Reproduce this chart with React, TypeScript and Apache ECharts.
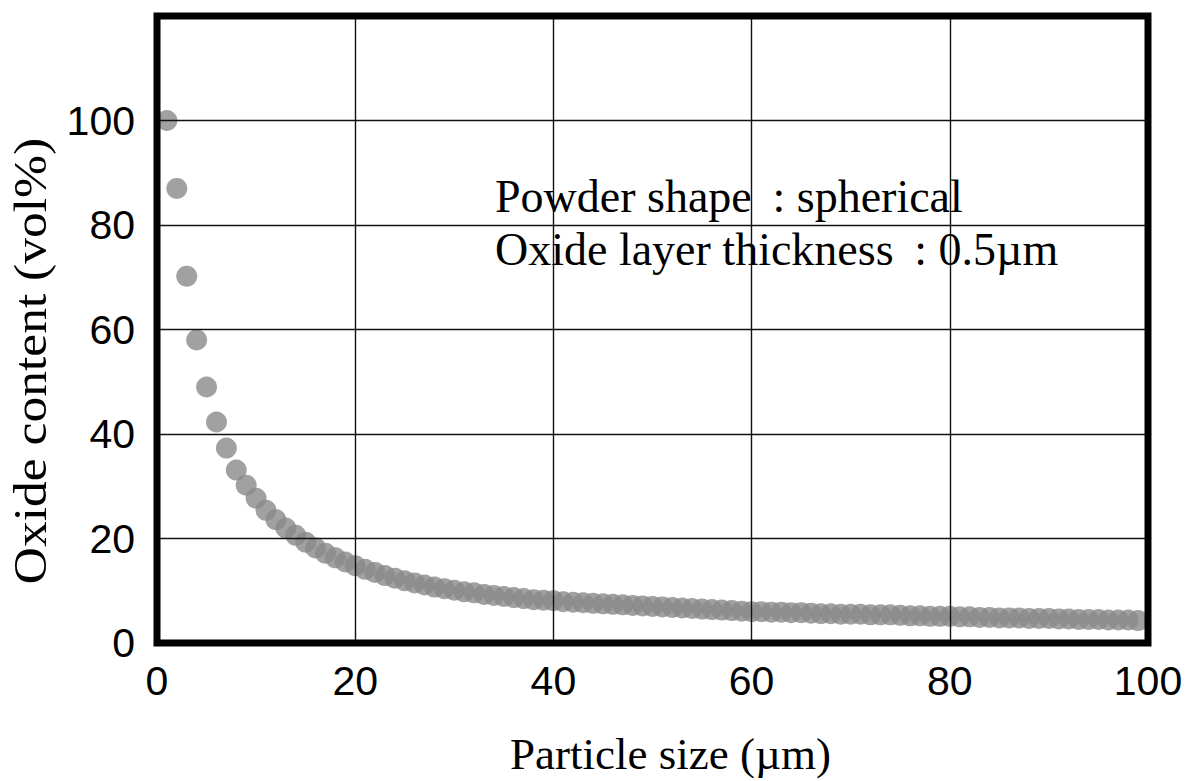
import React, { useEffect, useRef } from "react";
import * as echarts from "echarts";

// Particle size (µm) of each computed powder grade
const particleSize = [
  1, 2, 3, 4, 5, 6, 7, 8, 9, 10,
  11, 12, 13, 14, 15, 16, 17, 18, 19, 20,
  21, 22, 23, 24, 25, 26, 27, 28, 29, 30,
  31, 32, 33, 34, 35, 36, 37, 38, 39, 40,
  41, 42, 43, 44, 45, 46, 47, 48, 49, 50,
  51, 52, 53, 54, 55, 56, 57, 58, 59, 60,
  61, 62, 63, 64, 65, 66, 67, 68, 69, 70,
  71, 72, 73, 74, 75, 76, 77, 78, 79, 80,
  81, 82, 83, 84, 85, 86, 87, 88, 89, 90,
  91, 92, 93, 94, 95, 96, 97, 98, 99,
];

// Oxide content (vol%) for a 0.5 µm oxide shell on a spherical particle
const oxideContent = [
  100, 87.0, 70.2, 58.0, 49.0, 42.3, 37.3, 33.1, 30.2, 27.7,
  25.4, 23.6, 22.0, 20.6, 19.3, 18.2, 17.2, 16.3, 15.5, 14.8,
  14.1, 13.5, 12.9, 12.4, 11.9, 11.5, 11.1, 10.7, 10.4, 10.1,
  9.8, 9.6, 9.3, 9.1, 8.9, 8.7, 8.5, 8.3, 8.2, 8.1,
  7.9, 7.8, 7.7, 7.6, 7.5, 7.4, 7.3, 7.2, 7.1, 7.0,
  6.9, 6.8, 6.7, 6.6, 6.5, 6.4, 6.3, 6.2, 6.1, 6.0,
  6.0, 5.9, 5.9, 5.8, 5.8, 5.7, 5.6, 5.6, 5.5, 5.5,
  5.5, 5.4, 5.4, 5.4, 5.3, 5.2, 5.2, 5.1, 5.1, 5.1,
  5.0, 5.0, 4.9, 4.9, 4.8, 4.8, 4.8, 4.7, 4.7, 4.7,
  4.6, 4.6, 4.5, 4.5, 4.5, 4.4, 4.4, 4.4, 4.3,
];

const xAxisTitle = "Particle size (µm)";
const yAxisTitle = "Oxide content (vol%)";
const noteLines = [
  "Powder shape\u00a0\u2009:\u00a0spherical",
  "Oxide layer thickness\u00a0\u2009:\u00a00.5µm",
];

const SERIF = "'Liberation Serif', 'Times New Roman', serif";
const SANS = "'Liberation Sans', Arial, sans-serif";

export default function App() {
  const ref = useRef<HTMLDivElement>(null);

  useEffect(() => {
    if (!ref.current) return;
    const chart = echarts.init(ref.current, null, { renderer: "svg" });

    const points = particleSize.map((x, i) => [x, oxideContent[i]]);

    chart.setOption({
      animation: false,
      backgroundColor: "#ffffff",
      grid: {
        left: 157,
        right: 52,
        top: 16,
        bottom: 131,
        show: true,
        borderColor: "#000",
        borderWidth: 7,
        backgroundColor: "transparent",
        z: 1,
      },
      xAxis: {
        type: "value",
        min: 0,
        max: 100,
        interval: 20,
        axisLine: { show: false },
        axisTick: { show: false },
        axisLabel: {
          color: "#000",
          fontFamily: SANS,
          fontSize: 41,
          margin: 17,
        },
        splitLine: { show: true, lineStyle: { color: "#111", width: 1.4 } },
        name: xAxisTitle,
        nameLocation: "middle",
        nameGap: 88,
        nameTextStyle: {
          color: "#000",
          fontFamily: SERIF,
          fontSize: 45,
          padding: [0, 0, 0, 36],
        },
      },
      yAxis: {
        type: "value",
        min: 0,
        max: 120,
        interval: 20,
        axisLine: { show: false },
        axisTick: { show: false },
        axisLabel: {
          color: "#000",
          fontFamily: SANS,
          fontSize: 41,
          margin: 22,
          formatter: (v: number) => (v === 120 ? "" : String(v)),
        },
        splitLine: { show: true, lineStyle: { color: "#111", width: 1.4 } },
      },
      series: [
        {
          type: "scatter",
          data: points,
          symbol: "circle",
          symbolSize: 21,
          itemStyle: { color: "#8a8a8a" },
          z: -1,
          silent: true,
        },
      ],
      graphic: [
        {
          type: "text",
          x: 30,
          y: 361,
          rotation: Math.PI / 2,
          scaleX: 1.12,
          style: {
            text: yAxisTitle,
            font: `46px ${SERIF}`,
            fill: "#000",
            textAlign: "center",
            textVerticalAlign: "middle",
          },
        },
        {
          type: "group",
          z: 10,
          children: [
            {
              type: "rect",
              shape: { x: 477, y: 168, width: 607, height: 116 },
              style: { fill: "#ffffff" },
            },
            {
              type: "text",
              x: 495,
              y: 196,
              style: {
                text: noteLines[0],
                font: `46px ${SERIF}`,
                fill: "#000",
                textAlign: "left",
                textVerticalAlign: "middle",
              },
            },
            {
              type: "text",
              x: 495,
              y: 249,
              style: {
                text: noteLines[1],
                font: `46px ${SERIF}`,
                fill: "#000",
                textAlign: "left",
                textVerticalAlign: "middle",
              },
            },
          ],
        },
      ],
    });

    return () => chart.dispose();
  }, []);

  return (
    <div
      ref={ref}
      style={{ position: "fixed", left: 0, top: 0, width: 1200, height: 781, background: "#fff" }}
    />
  );
}
